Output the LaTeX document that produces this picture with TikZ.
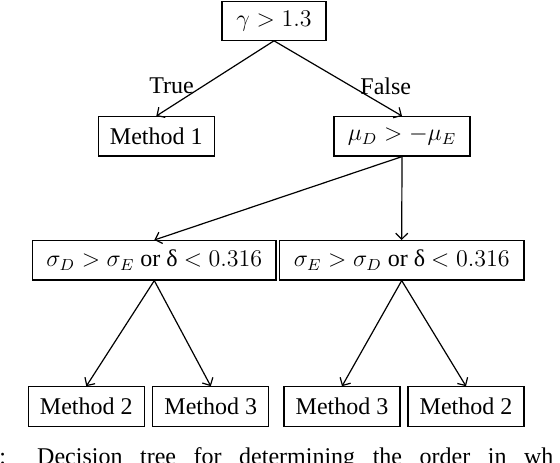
\documentclass[tikz,border=0pt]{standalone}
\usepackage{fontspec}
\setmainfont{Liberation Serif}
\usepackage{tikz}
\usetikzlibrary{arrows.meta}

\begin{document}
\begin{tikzpicture}[x=0.5pt,y=-0.5pt,font=\fontsize{12pt}{14pt}\selectfont,
  test/.style={draw, line width=0.6pt, inner sep=2pt, minimum height=19.7pt},
  leaf/.style={test, minimum width=58pt},
  arr/.style={-{Straight Barb[length=3pt,width=6pt]}, line width=0.6pt},
  lab/.style={inner sep=4.5pt}]
\useasboundingbox (0,0) rectangle (560,462);
\node[test, minimum width=52pt, minimum height=19.2pt] (G)  at (274,21)    {$\gamma > 1.3$};
\node[leaf] (M1) at (156.3,136.3) {Method 1};
\node[test, minimum width=68pt] (MU) at (402,136.3)   {$\mu_D > -\mu_E$};
\node[test, minimum width=121.7pt] (SL) at (154.3,260.3) {$\sigma_D > \sigma_E$ or δ $< 0.316$};
\node[test, minimum width=122.3pt] (SR) at (401.7,260.3) {$\sigma_E > \sigma_D$ or δ $< 0.316$};
\node[leaf] (M2a) at (86.3,406.5)  {Method 2};
\node[leaf] (M3a) at (210.8,406.5) {Method 3};
\node[leaf] (M3b) at (342,406.5)   {Method 3};
\node[leaf] (M2b) at (466,406.5)   {Method 2};
\draw[arr] (G.south) -- node[lab, anchor=east, pos=0.6]{True} (M1.north);
\draw[arr] (G.south) -- node[lab, anchor=west, pos=0.6]{False} (MU.north);
\draw[arr] (MU.south) -- (SL.north); \draw[arr] (MU.south) -- (SR.north);
\draw[arr] (SL.south) -- (M2a.north); \draw[arr] (SL.south) -- (M3a.north);
\draw[arr] (SR.south) -- (M3b.north); \draw[arr] (SR.south) -- (M2b.north);
\node[inner sep=0pt, anchor=base west] (cap) at (-1,464)
  {\makebox[277pt][s]{: Decision tree for determining the order in wh}};
\end{tikzpicture}
\end{document}
